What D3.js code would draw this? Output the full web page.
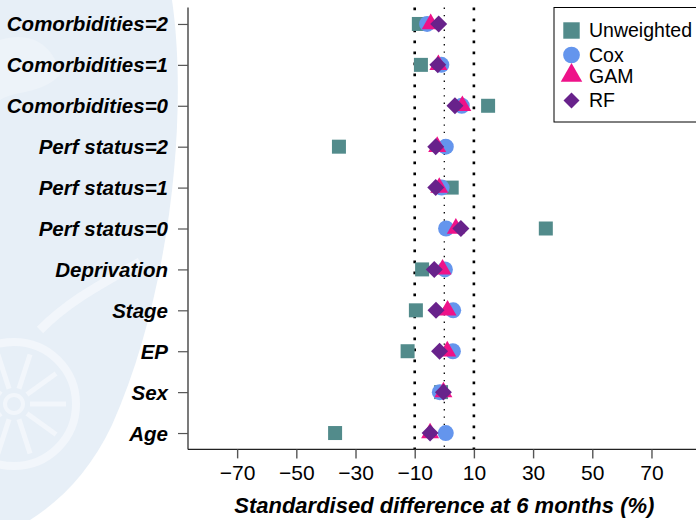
<!DOCTYPE html>
<html>
<head>
<meta charset="utf-8">
<script src="https://cdn.jsdelivr.net/npm/d3@7"></script>
<style>
  html, body { margin: 0; padding: 0; background: #ffffff; }
  svg { display: block; }
  text { font-family: "Liberation Sans", Arial, Helvetica, sans-serif; }
</style>
</head>
<body>
<script>
// Covariate rows, listed bottom to top
const categories = ["Age", "Sex", "EP", "Stage", "Deprivation",
  "Perf status=0", "Perf status=1", "Perf status=2",
  "Comorbidities=0", "Comorbidities=1", "Comorbidities=2"];

// Standardised differences (%) per weighting method, same order as categories
const unweighted = [-36.9, -1.1, -12.4, -9.6, -7.5, 34.3, 2.5, -35.6, 14.8, -7.9, -8.6];
const cox        = [0.5, -1.5, 2.9, 3.0, 0.2, 0.6, -0.9, 0.5, 5.9, -1.0, -5.8];
const gam        = [-4.8, -0.3, 1.0, 1.1, -0.6, 3.9, -1.7, -2.4, 6.1, -2.0, -4.6];
const rf         = [-4.8, -0.3, -1.6, -2.8, -3.4, 5.6, -2.9, -2.9, 3.6, -2.2, -1.9];

const xTicks = [-70, -50, -30, -10, 10, 30, 50, 70];
const refLines = [-10, 0, 10];
const legendLabels = ["Unweighted", "Cox", "GAM", "RF"];

const W = 696, H = 520;
const svg = d3.select("body").append("svg").attr("width", W).attr("height", H);
svg.append("rect").attr("width", W).attr("height", H).attr("fill", "#ffffff");

// Faint crest in the background
const wm = svg.append("g");
const wmLight = "#f2f6fb";
wm.append("path")
  .attr("d", "M0,0 L172,0 C188,110 172,290 112,425 C92,468 62,500 30,520 L0,520 Z")
  .attr("fill", "#e7eff7");
wm.append("path")
  .attr("d", "M0,40 C30,30 55,45 60,75 C40,95 15,90 0,100 Z")
  .attr("fill", "#edf3f9");
wm.append("path")
  .attr("d", "M40,330 C70,300 100,285 140,262")
  .attr("fill", "none").attr("stroke", wmLight).attr("stroke-width", 9);
wm.append("circle").attr("cx", 14).attr("cy", 404).attr("r", 62)
  .attr("fill", "none").attr("stroke", wmLight).attr("stroke-width", 8);
wm.append("circle").attr("cx", 14).attr("cy", 404).attr("r", 9)
  .attr("fill", "none").attr("stroke", wmLight).attr("stroke-width", 4);
d3.range(0, 360, 36).forEach(a => {
  const r = a * Math.PI / 180;
  wm.append("line")
    .attr("x1", 14 + 16 * Math.cos(r)).attr("y1", 404 + 16 * Math.sin(r))
    .attr("x2", 14 + 52 * Math.cos(r)).attr("y2", 404 + 52 * Math.sin(r))
    .attr("stroke", wmLight).attr("stroke-width", 5);
});

// Scales
const x = d3.scaleLinear().domain([-86.6, 86.6]).range([188, 700.6]);
const y = d3.scaleLinear().domain([0.6, 11.4]).range([449.4, 7.6]);
const rowY = i => y(i + 1);

// Reference lines
refLines.forEach(v => {
  const major = v !== 0;
  svg.append("line")
    .attr("x1", x(v)).attr("x2", x(v))
    .attr("y1", y(11.4)).attr("y2", y(0.6))
    .attr("stroke", "#000")
    .attr("stroke-width", major ? 2.6 : 1.3)
    .attr("stroke-dasharray", major ? "2.6 8.4" : "1.4 5.9");
});

// Axes
const xAxis = svg.append("g").attr("transform", `translate(0,${y(0.6)})`)
  .call(d3.axisBottom(x).tickValues(xTicks).tickSize(9).tickPadding(5)
    .tickFormat(d => d < 0 ? "\u2212" + Math.abs(d) : String(d)));
xAxis.select(".domain").attr("d", `M${x(-86.6)},0H${W + 5}`).attr("stroke", "#222").attr("stroke-width", 1.2);
xAxis.selectAll(".tick line").attr("stroke", "#555").attr("stroke-width", 1.4);
xAxis.selectAll(".tick text").attr("font-size", 21).attr("fill", "#000")
  .attr("font-family", "'Liberation Sans', Arial, sans-serif").attr("dy", "0.8em");

const yAxis = svg.append("g").attr("transform", `translate(${x(-86.6)},0)`)
  .call(d3.axisLeft(y).tickValues(d3.range(1, 12)).tickSize(10).tickPadding(10)
    .tickFormat(d => categories[d - 1]));
yAxis.select(".domain").attr("d", `M0,${y(11.4)}V${y(0.6)}`).attr("stroke", "#222").attr("stroke-width", 1.2);
yAxis.selectAll(".tick line").attr("stroke", "#555").attr("stroke-width", 1.2);
yAxis.selectAll(".tick text").attr("font-size", 20.5).attr("font-weight", "bold")
  .attr("font-style", "italic").attr("fill", "#000")
  .attr("font-family", "'Liberation Sans', Arial, sans-serif").attr("dy", "0.34em");

svg.append("text")
  .attr("x", (x(-86.6) + x(86.6)) / 2).attr("y", 513)
  .attr("text-anchor", "middle").attr("font-size", 22)
  .attr("font-weight", "bold").attr("font-style", "italic")
  .text("Standardised difference at 6 months (%)");

// Marker definitions
const series = [
  { name: "Unweighted", values: unweighted, color: "#528b8b", symbol: d3.symbolSquare, size: 196, rot: 0, legSize: 270 },
  { name: "Cox", values: cox, color: "#6495ed", symbol: d3.symbolCircle, size: 201, rot: 0, legSize: 220 },
  { name: "GAM", values: gam, color: "#ee1289", symbol: d3.symbolTriangle, size: 140, rot: 0, legSize: 200 },
  { name: "RF", values: rf, color: "#68228b", symbol: d3.symbolSquare, size: 144, rot: 45, legSize: 128 }
];

series.forEach(s => {
  svg.append("g").selectAll("path").data(s.values).join("path")
    .attr("d", d3.symbol().type(s.symbol).size(s.size))
    .attr("transform", (v, i) => `translate(${x(v)},${rowY(i)}) rotate(${s.rot})`)
    .attr("fill", s.color);
});

// Legend
const leg = svg.append("g");
leg.append("rect").attr("x", 554).attr("y", 7.5).attr("width", 160).attr("height", 114.5)
  .attr("fill", "#fff").attr("stroke", "#000").attr("stroke-width", 1);
const legY = [30.5, 55, 75.5, 100.5];
const legTextY = [37.3, 61.7, 82.7, 106.7];
series.forEach((s, i) => {
  leg.append("path")
    .attr("d", d3.symbol().type(s.symbol).size(s.legSize))
    .attr("transform", `translate(571.5,${legY[i]}) rotate(${s.rot})`)
    .attr("fill", s.color);
  leg.append("text").attr("x", 589).attr("y", legTextY[i])
    .attr("font-size", 19.5).attr("fill", "#000").text(legendLabels[i]);
});
</script>
</body>
</html>
